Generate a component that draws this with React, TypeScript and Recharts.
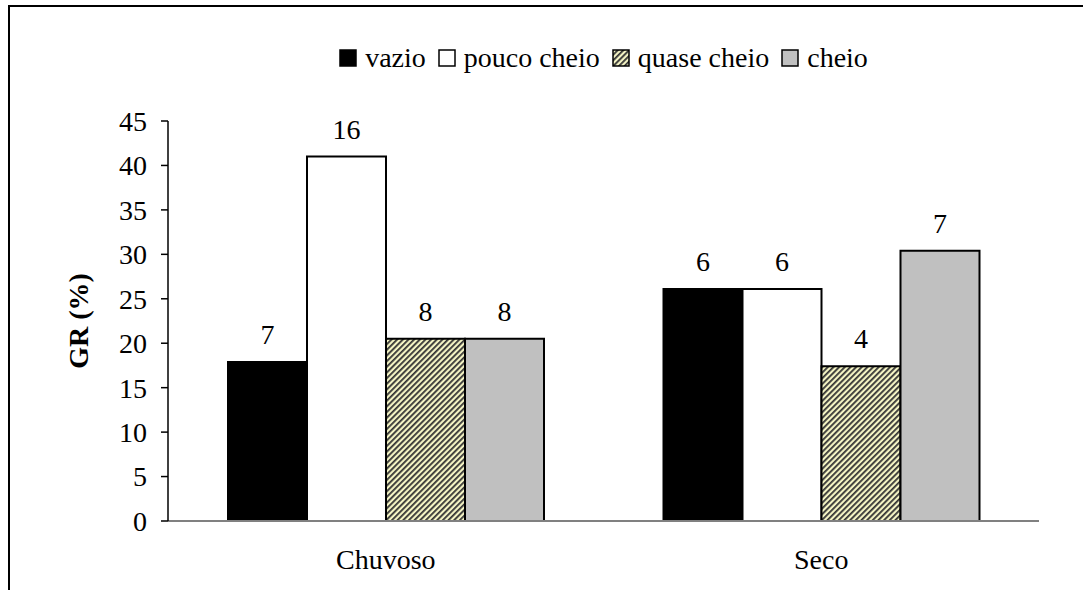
import React from 'react';
import { BarChart, Bar, XAxis, YAxis, Legend, LabelList } from 'recharts';

const categories = ['Chuvoso', 'Seco'];
const vazio = [17.9, 26.1];
const poucoCheio = [41.0, 26.1];
const quaseCheio = [20.5, 17.4];
const cheio = [20.5, 30.4];
const nVazio = [7, 6];
const nPouco = [16, 6];
const nQuase = [8, 4];
const nCheio = [8, 7];
const yTicks = [0, 5, 10, 15, 20, 25, 30, 35, 40, 45];
const boundaryTicks = [0, 1, 2];

const FONT = '"Times New Roman", "Liberation Serif", Tinos, "DejaVu Serif", "Noto Serif", serif';

const data = categories.map((name, i) => ({
  name,
  vazio: vazio[i],
  poucoCheio: poucoCheio[i],
  quaseCheio: quaseCheio[i],
  cheio: cheio[i],
  nVazio: nVazio[i],
  nPouco: nPouco[i],
  nQuase: nQuase[i],
  nCheio: nCheio[i],
}));

const series = [
  { key: 'vazio', label: 'vazio', fill: '#000000', n: 'nVazio' },
  { key: 'poucoCheio', label: 'pouco cheio', fill: '#ffffff', n: 'nPouco' },
  { key: 'quaseCheio', label: 'quase cheio', fill: 'url(#hatch)', n: 'nQuase' },
  { key: 'cheio', label: 'cheio', fill: '#c0c0c0', n: 'nCheio' },
];

const HatchDef = ({ id }: { id: string }) => (
  <pattern id={id} width="4" height="4" patternUnits="userSpaceOnUse" patternTransform="rotate(45)">
    <rect x="0" y="0" width="4" height="4" fill="#f4f4c4" />
    <rect x="0" y="0" width="1.8" height="4" fill="#333333" />
  </pattern>
);

const LegendContent = () => (
  <div
    style={{
      display: 'flex',
      justifyContent: 'center',
      alignItems: 'baseline',
      fontFamily: FONT,
      fontSize: 28,
      lineHeight: '32px',
      color: '#000',
    }}
  >
    {series.map((s, i) => (
      <div key={s.key} style={{ display: 'flex', alignItems: 'baseline', marginLeft: i === 0 ? 0 : 12 }}>
        <svg width="18" height="18" style={{ marginRight: 8 }}>
          <defs>
            <HatchDef id={'hatchLegend' + i} />
          </defs>
          <rect
            x="1"
            y="1"
            width="16"
            height="16"
            fill={s.key === 'quaseCheio' ? 'url(#hatchLegend' + i + ')' : s.fill}
            stroke="#000"
            strokeWidth="1.5"
          />
        </svg>
        <span>{s.label}</span>
      </div>
    ))}
  </div>
);

const YTitle = (props: any) => {
  const vb = props.viewBox || { x: 0, y: 0, width: 0, height: 0 };
  const x = vb.x + 88;
  const y = vb.y + vb.height / 2;
  return (
    <text
      x={x}
      y={y}
      transform={`rotate(-90, ${x}, ${y})`}
      textAnchor="middle"
      fontFamily={FONT}
      fontSize={28}
      fontWeight="bold"
      fill="#000"
    >
      GR (%)
    </text>
  );
};

export default function App() {
  return (
    <div style={{ position: 'absolute', left: 0, top: 0, width: 1083, height: 590, overflow: 'hidden', background: '#fff', fontFamily: FONT }}>
      <div
        style={{
          position: 'absolute',
          left: 8,
          top: 5,
          width: 1200,
          height: 700,
          border: '2px solid #000',
          boxSizing: 'border-box',
        }}
      />
      <div style={{ position: 'absolute', left: 0, top: 0 }}>
        <BarChart
          width={1083}
          height={590}
          data={data}
          margin={{ top: 121, right: 44, bottom: 39, left: 0 }}
          barGap={0}
          barSize={79}
          style={{ fontFamily: FONT }}
        >
          <defs>
            <HatchDef id="hatch" />
          </defs>
          <XAxis
            xAxisId="tk"
            type="number"
            domain={[0, 2]}
            ticks={boundaryTicks}
            height={0}
            axisLine={false}
            tick={false}
            tickLine={{ stroke: '#808080', strokeWidth: 1.5 }}
            tickSize={7}
          />
          <XAxis
            xAxisId="cat"
            dataKey="name"
            height={30}
            axisLine={{ stroke: '#808080', strokeWidth: 2 }}
            tickLine={false}
            tickSize={0}
            tickMargin={28}
            tick={{ fill: '#000', fontSize: 28, fontFamily: FONT }}
          />
          <YAxis
            width={168}
            domain={[0, 45]}
            ticks={yTicks}
            interval={0}
            axisLine={{ stroke: '#000', strokeWidth: 1.5 }}
            tickLine={{ stroke: '#000', strokeWidth: 1.5 }}
            tickSize={7}
            tickMargin={14}
            tick={{ fill: '#000', fontSize: 28, fontFamily: FONT }}
            label={YTitle}
          />
          <Legend
            verticalAlign="middle"
            align="center"
            layout="horizontal"
            content={LegendContent}
            wrapperStyle={{ top: 42, left: 168, width: 871 }}
          />
          {series.map((s) => (
            <Bar
              key={s.key}
              xAxisId="cat"
              dataKey={s.key}
              name={s.label}
              fill={s.fill}
              stroke="#000"
              strokeWidth={2}
              isAnimationActive={false}
            >
              <LabelList dataKey={s.n} position="top" offset={18} fill="#000" fontSize={28} fontFamily={FONT} />
            </Bar>
          ))}
        </BarChart>
      </div>
    </div>
  );
}
